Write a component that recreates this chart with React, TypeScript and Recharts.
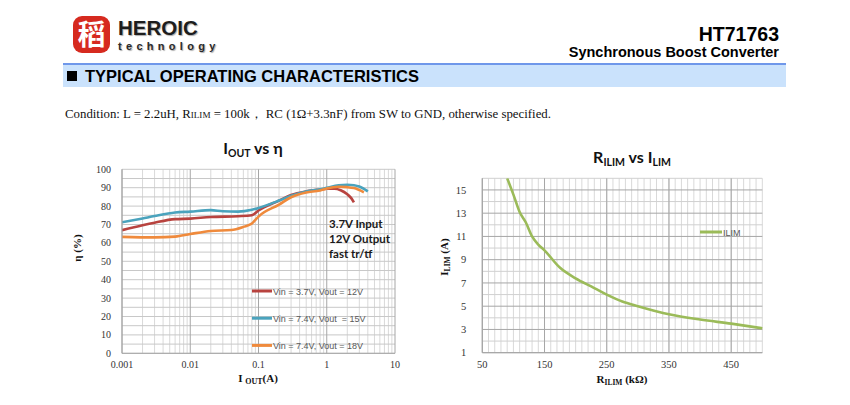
import React from "react";
import { CartesianGrid, Line, LineChart, XAxis, YAxis } from "recharts";

// efficiency vs output current (log x)
const iout37 = [0.001, 0.002, 0.003, 0.006, 0.01, 0.02, 0.05, 0.08, 0.1, 0.2, 0.3, 0.5, 0.8, 1, 1.3, 1.6, 2, 2.3, 2.5];
const eff37 = [66.9, 69.6, 71, 72.9, 73.2, 74.1, 74.5, 75, 77.6, 83, 86, 88, 89, 89.4, 89.4, 88.6, 86.4, 84.2, 82];

const iout15 = [0.001, 0.002, 0.003, 0.006, 0.01, 0.02, 0.03, 0.05, 0.08, 0.1, 0.2, 0.3, 0.5, 0.8, 1, 1.5, 2, 2.5, 3, 4];
const eff15 = [71.2, 73.3, 74.6, 76.5, 77, 77.8, 77.2, 77, 78, 79, 83, 85.6, 87.9, 89.1, 89.9, 91.3, 91.6, 91.3, 90.6, 88];

const iout18 = [0.001, 0.003, 0.006, 0.01, 0.02, 0.04, 0.06, 0.08, 0.09, 0.1, 0.2, 0.3, 0.5, 0.8, 1, 1.5, 2, 2.5, 3.5];
const eff18 = [63.3, 63, 63.4, 64.8, 66.5, 67, 68.7, 70.5, 72.5, 74.3, 80.8, 84.8, 87.4, 88.5, 89.6, 90.5, 90.3, 89.8, 87.5];

const effNames = ["Vin = 3.7V, Vout = 12V", "Vin = 7.4V, Vout  = 15V", "Vin = 7.4V, Vout = 18V"];
const effColors = ["#b8433f", "#4aa3bd", "#ef8a3c"];

const ioutTicks = [0.001, 0.01, 0.1, 1, 10];
const effTicks = [0, 10, 20, 30, 40, 50, 60, 70, 80, 90, 100];

// current limit vs resistor
const rilim = [90, 100, 110, 120, 130, 140, 150, 175, 200, 225, 250, 275, 300, 350, 400, 450, 500];
const ilim = [16, 14.6, 13.1, 12.2, 11, 10.3, 9.8, 8.3, 7.4, 6.7, 6, 5.4, 5, 4.3, 3.85, 3.5, 3.1];
const rTicks = [50, 150, 250, 350, 450];
const iTicks = [1, 3, 5, 7, 9, 11, 13, 15];

const zip = (xs: number[], ys: number[]) => xs.map((x, i) => ({ x, y: ys[i] }));
const effSeries = [zip(iout37, eff37), zip(iout15, eff15), zip(iout18, eff18)];
const ilimData = zip(rilim, ilim);

// grid helpers
const logMinor = ioutTicks.slice(0, -1).flatMap((d) => [2, 3, 4, 5, 6, 7, 8, 9].map((k) => +(d * k).toPrecision(3)));
const effGrid = Array.from({ length: 21 }, (_, i) => i * 5);
const rMinor = Array.from({ length: 46 }, (_, i) => 50 + i * 10);
const iMinor = Array.from({ length: 8 }, (_, i) => 2 + i * 2);

const serif = "'Liberation Serif', 'Times New Roman', serif";
const arial = "'Liberation Sans', Arial, sans-serif";
const calibri = "Lato, 'DejaVu Sans', sans-serif";
const tickStyle = { fontSize: 10, fill: "#333", fontFamily: serif };
const axisStroke = "#a6a6a6";

function Overlay() {
  return (
    <svg width={850} height={405} style={{ position: "absolute", left: 0, top: 0, pointerEvents: "none" }}>
      {/* header */}
      <rect x={73} y={16} width={37} height={37} rx={9} fill="#d62a1f" />
      <text x={91.5} y={45} textAnchor="middle" fontFamily="'Noto Sans CJK SC'" fontWeight={700} fontSize={28} fill="#fff">
        稻
      </text>
      <text x={118} y={35} fontFamily={arial} fontWeight={700} fontSize={20.5} fill="#1d1d1d" style={{ textShadow: "1px 1px 1px #aaa" }}>
        HEROIC
      </text>
      <text x={118} y={50} fontFamily={arial} fontWeight={700} fontSize={11} letterSpacing={4.3} fill="#2a2a2a" style={{ textShadow: "1px 1px 1px #aaa" }}>
        technology
      </text>
      <text x={779} y={41} textAnchor="end" fontFamily={arial} fontWeight={700} fontSize={19.5} fill="#000">
        HT71763
      </text>
      <text x={779} y={57} textAnchor="end" fontFamily={arial} fontWeight={700} fontSize={14.5} fill="#000">
        Synchronous Boost Converter
      </text>
      <rect x={63} y={65} width={723} height={22} fill="#cae2fc" />
      <line x1={63} x2={786} y1={64} y2={64} stroke="#3f74e3" strokeWidth={1.5} />
      <rect x={67} y={71} width={10} height={10} fill="#000" />
      <text x={85} y={82} fontFamily={arial} fontWeight={700} fontSize={16.5} fill="#000">
        TYPICAL OPERATING CHARACTERISTICS
      </text>
      <text x={65} y={118} fontFamily={serif} fontSize={12} fill="#111" textLength={486} lengthAdjust="spacingAndGlyphs">
        Condition: L = 2.2uH, R<tspan fontSize={8.5}>ILIM</tspan> = 100k， RC (1Ω+3.3nF) from SW to GND, otherwise specified.
      </text>

      {/* left chart texts */}
      <text x={253} y={154} textAnchor="middle" fontFamily={calibri} fontWeight={700} fontSize={16} fill="#111">
        I<tspan fontSize={10.5} dy={3}>OUT</tspan>
        <tspan dy={-3}> vs η</tspan>
      </text>
      <text transform="translate(81,248) rotate(-90)" textAnchor="middle" fontFamily={serif} fontWeight={700} fontSize={11} fill="#111">
        η (%)
      </text>
      <text x={258} y={382} textAnchor="middle" fontFamily={serif} fontWeight={700} fontSize={11} fill="#111">
        I <tspan fontSize={8} dy={2}>OUT</tspan>
        <tspan dy={-2}>(A)</tspan>
      </text>
      {["3.7V Input", "12V Output", "fast tr/tf"].map((t, i) => (
        <text key={t} x={329} y={228 + i * 15} fontFamily={calibri} fontWeight={700} fontSize={11.5} fill="#1a1a1a">
          {t}
        </text>
      ))}
      {effNames.map((n, i) => {
        const y = 291 + i * 27.2;
        return (
          <g key={n}>
            <line x1={252} x2={272} y1={y} y2={y} stroke={effColors[i]} strokeWidth={3} />
            <text x={273} y={y + 3.5} fontFamily={arial} fontSize={9} fill="#595959" style={{ whiteSpace: "pre" }}>
              {n}
            </text>
          </g>
        );
      })}

      {/* right chart texts */}
      <text x={632} y={163} textAnchor="middle" fontFamily={calibri} fontWeight={700} fontSize={16} fill="#111">
        R<tspan fontSize={10.5} dy={3}>ILIM</tspan>
        <tspan dy={-3}> vs I</tspan>
        <tspan fontSize={10.5} dy={3}>LIM</tspan>
      </text>
      <text transform="translate(448,257) rotate(-90)" textAnchor="middle" fontFamily={serif} fontWeight={700} fontSize={11} fill="#111">
        I<tspan fontSize={7.5} dy={2}>LIM</tspan>
        <tspan dy={-2}> (A)</tspan>
      </text>
      <text x={622} y={383} textAnchor="middle" fontFamily={serif} fontWeight={700} fontSize={11} fill="#111">
        R<tspan fontSize={7.5} dy={2}>ILIM</tspan>
        <tspan dy={-2}> (kΩ)</tspan>
      </text>
      <line x1={700} x2={722} y1={232} y2={232} stroke="#9bbb59" strokeWidth={3} />
      <text x={723} y={235.5} fontFamily={arial} fontSize={9} fill="#595959">
        ILIM
      </text>
    </svg>
  );
}

export default function App() {
  return (
    <div style={{ position: "absolute", left: 0, top: 0, width: 850, height: 405, background: "#fff", overflow: "hidden" }}>
      <div style={{ position: "absolute", left: 60, top: 140 }}>
        <LineChart width={360} height={255} margin={{ top: 29.3, right: 25, left: 32, bottom: 21.7 }}>
          <CartesianGrid horizontal={false} verticalValues={logMinor} stroke="#d9d9d9" />
          <CartesianGrid vertical={false} horizontalValues={effGrid} stroke="#c8c8c8" />
          <CartesianGrid horizontal={false} verticalValues={ioutTicks} stroke={axisStroke} />
          <XAxis
            dataKey="x"
            type="number"
            scale="log"
            domain={[0.001, 10]}
            ticks={ioutTicks}
            interval={0}
            allowDataOverflow
            tickLine={false}
            axisLine={{ stroke: axisStroke }}
            tick={tickStyle}
            tickFormatter={(v: number) => String(v)}
            height={20}
          />
          <YAxis
            type="number"
            domain={[0, 100]}
            ticks={effTicks}
            interval={0}
            tickLine={false}
            axisLine={{ stroke: axisStroke }}
            tick={tickStyle}
            tickMargin={5}
            width={30}
          />
          {effSeries.map((d, i) => (
            <Line
              key={effNames[i]}
              data={d}
              dataKey="y"
              name={effNames[i]}
              type="monotone"
              stroke={effColors[i]}
              strokeWidth={2.6}
              dot={false}
              isAnimationActive={false}
            />
          ))}
        </LineChart>
      </div>

      <div style={{ position: "absolute", left: 430, top: 140 }}>
        <LineChart width={350} height={255} data={ilimData} margin={{ top: 38.3, right: 17.7, left: 22.3, bottom: 22.3 }}>
          <CartesianGrid horizontal={false} verticalValues={rMinor} stroke="#d9d9d9" />
          <CartesianGrid vertical={false} horizontalValues={iMinor} stroke="#d0d0d0" />
          <CartesianGrid horizontal={false} verticalValues={rTicks} stroke={axisStroke} />
          <CartesianGrid vertical={false} horizontalValues={iTicks} stroke={axisStroke} />
          <XAxis
            dataKey="x"
            type="number"
            domain={[50, 500]}
            ticks={rTicks}
            interval={0}
            tickLine={false}
            axisLine={{ stroke: axisStroke }}
            tick={{ ...tickStyle, fontSize: 10.5 }}
            height={20}
          />
          <YAxis
            type="number"
            domain={[1, 16]}
            ticks={iTicks}
            interval={0}
            allowDataOverflow
            tickLine={false}
            axisLine={{ stroke: axisStroke }}
            tick={{ ...tickStyle, fontSize: 10.5 }}
            tickMargin={10}
            width={30}
          />
          <Line dataKey="y" name="ILIM" type="monotone" stroke="#9bbb59" strokeWidth={2.6} dot={false} isAnimationActive={false} />
        </LineChart>
      </div>

      <Overlay />
    </div>
  );
}
